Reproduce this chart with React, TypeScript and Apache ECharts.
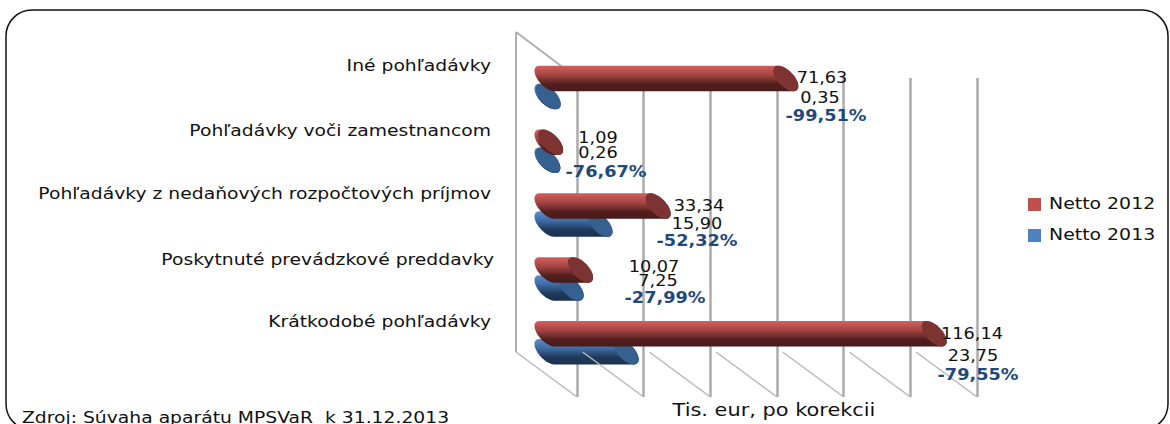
import React, { useEffect, useRef } from "react";
import * as echarts from "echarts";

const categories = [
  "Iné pohľadávky",
  "Pohľadávky voči zamestnancom",
  "Pohľadávky z nedaňových rozpočtových príjmov",
  "Poskytnuté prevádzkové preddavky",
  "Krátkodobé pohľadávky",
];
const netto2012 = [71.63, 1.09, 33.34, 10.07, 116.14];
const netto2013 = [0.35, 0.26, 15.9, 7.25, 23.75];
const changeLabels = ["-99,51%", "-76,67%", "-52,32%", "-27,99%", "-79,55%"];
const gridTicks = [0, 20, 40, 60, 80, 100, 120];
const legendNames = ["Netto 2012", "Netto 2013"];
const axisTitle = "Tis. eur, po korekcii";
const sourceNote = "Zdroj: Súvaha aparátu MPSVaR  k 31.12.2013";

const FONT = "'DejaVu Sans', sans-serif";
const fmt = (v: number) => v.toFixed(2).replace(".", ",");

// label centres, one triple per category: 2012, 2013, change
const labelSpots = [
  [[822, 78], [820, 98], [826, 116]],
  [[598, 138], [598, 153], [606, 172]],
  [[699, 206], [697, 224], [697, 241]],
  [[654, 267], [658, 281], [665, 298]],
  [[972, 334], [973, 356], [978, 375]],
];
const categorySpots = [[491, 66], [491, 131], [491, 194], [494, 260], [491, 322]];

function ellipsePts(cx: number, cy: number) {
  const a = 16, b = 8, phi = (46 * Math.PI) / 180;
  const pts: number[][] = [];
  for (let i = 0; i < 48; i++) {
    const t = (i / 48) * Math.PI * 2;
    pts.push([
      cx + a * Math.cos(t) * Math.cos(phi) - b * Math.sin(t) * Math.sin(phi),
      cy + a * Math.cos(t) * Math.sin(phi) + b * Math.sin(t) * Math.cos(phi),
    ]);
  }
  return pts;
}

function cylinder(api: any, yOff: number, stops: string[], cap: string) {
  const v = api.value(0);
  const end = api.coord([v, api.value(1)]);
  const start = api.coord([0, api.value(1)]);
  const cy = end[1] + yOff;
  const left = ellipsePts(start[0] - 30, cy);
  const right = ellipsePts(end[0] - 30, cy);
  let top = 0, bot = 0;
  right.forEach((p, i) => {
    if (p[1] < right[top][1]) top = i;
    if (p[1] > right[bot][1]) bot = i;
  });
  const hull: number[][] = [];
  const n = right.length;
  for (let i = top; ; i = (i + 1) % n) {
    hull.push(right[i]);
    if (i === bot) break;
  }
  for (let i = bot; ; i = (i + 1) % n) {
    hull.push(left[i]);
    if (i === top) break;
  }
  return {
    type: "group",
    children: [
      {
        type: "polygon",
        shape: { points: hull },
        style: {
          fill: new echarts.graphic.LinearGradient(0, 0, 0, 1, [
            { offset: 0, color: stops[0] },
            { offset: 0.38, color: stops[1] },
            { offset: 0.72, color: stops[2] },
            { offset: 1, color: stops[3] },
          ]),
        },
      },
      { type: "polygon", shape: { points: right }, style: { fill: cap } },
    ],
  };
}

const stretched = (text: string, x: number, y: number, size: number, scaleX: number, align: string, extra: any = {}) => ({
  type: "text",
  x,
  y,
  scaleX,
  z: 10,
  style: {
    text,
    align,
    verticalAlign: "middle",
    font: `${extra.bold ? "bold " : ""}${size}px ${FONT}`,
    fill: extra.fill || "#111111",
  },
});

export default function App() {
  const ref = useRef<HTMLDivElement>(null);
  useEffect(() => {
    document.body.style.margin = "0";
    document.body.style.overflow = "hidden";
    const chart = echarts.init(ref.current!, undefined, { renderer: "svg" });
    const labelGraphics: any[] = [];
    categories.forEach((c, i) => {
      labelGraphics.push(stretched(c, categorySpots[i][0], categorySpots[i][1], 15, 1.25, "right"));
      const texts = [fmt(netto2012[i]), fmt(netto2013[i]), changeLabels[i]];
      texts.forEach((t, j) => {
        labelGraphics.push(
          stretched(t, labelSpots[i][j][0], labelSpots[i][j][1], 15, 1.18, "center",
            j === 2 ? { bold: true, fill: "#1f497d" } : {})
        );
      });
    });
    chart.setOption({
      animation: false,
      backgroundColor: "#ffffff",
      grid: { left: 577, top: 78, width: 400, height: 319, containLabel: false },
      xAxis: {
        type: "value",
        min: 0,
        max: 120,
        interval: 20,
        axisLine: { show: false },
        axisTick: { show: false },
        axisLabel: { show: false },
        splitLine: { show: true, lineStyle: { color: "#ababab", width: 2.5 } },
      },
      yAxis: {
        type: "category",
        inverse: true,
        data: categories,
        axisLine: { show: false },
        axisTick: { show: false },
        splitLine: { show: false },
        axisLabel: { show: false },
      },
      graphic: [
        {
          type: "rect",
          shape: { x: 6, y: 10, width: 1162, height: 420, r: 26 },
          z: -1,
          style: { fill: "none", stroke: "#111111", lineWidth: 1.5 },
        },
        stretched(sourceNote, 22, 418, 15, 1.25, "left"),
        stretched(axisTitle, 774, 410, 18, 1.16, "center"),
        { type: "rect", shape: { x: 1028, y: 198, width: 13, height: 13 }, style: { fill: "#c0504d" }, z: 10 },
        { type: "rect", shape: { x: 1028, y: 229, width: 13, height: 13 }, style: { fill: "#4f81bd" }, z: 10 },
        stretched(legendNames[0], 1049, 204, 15, 1.26, "left"),
        stretched(legendNames[1], 1049, 235, 15, 1.26, "left"),
        ...labelGraphics,
      ],
      series: [
        {
          type: "custom",
          name: "wall",
          z: 1,
          silent: true,
          data: [[0]],
          encode: { x: 0 },
          renderItem: (params: any, api: any) => {
            const x0 = api.coord([0, 0])[0];
            const { y, height } = params.coordSys;
            const style = { stroke: "#b0b0b0", lineWidth: 2 };
            return {
              type: "group",
              children: [
                { type: "line", shape: { x1: x0 - 61, y1: y - 46, x2: x0 - 61, y2: y + height - 45 }, style },
                { type: "line", shape: { x1: x0 - 61, y1: y - 46, x2: x0, y2: y }, style },
              ],
            };
          },
        },
        {
          type: "custom",
          name: legendNames[0],
          z: 3,
          itemStyle: { color: "#c0504d" },
          data: netto2012.map((v, i) => [v, i]),
          encode: { x: 0, y: 1 },
          renderItem: (_: any, api: any) => cylinder(api, -31.4, ["#d65f5d", "#a04341", "#531f1e", "#461b1a"], "#7c3331"),
        },
        {
          type: "custom",
          name: legendNames[1],
          z: 2,
          itemStyle: { color: "#4f81bd" },
          data: netto2013.map((v, i) => [v, i]),
          encode: { x: 0, y: 1 },
          renderItem: (_: any, api: any) => cylinder(api, -13.4, ["#5c8fce", "#3d6ba3", "#20395a", "#1b3250"], "#35608f"),
        },
        {
          type: "custom",
          name: "floor",
          z: 4,
          silent: true,
          data: gridTicks.map((v) => [v]),
          encode: { x: 0 },
          renderItem: (params: any, api: any) => {
            const x = api.coord([api.value(0), 0])[0];
            const { y, height } = params.coordSys;
            return {
              type: "line",
              shape: { x1: x - 61, y1: y + height - 45, x2: x, y2: y + height },
              style: { stroke: "#b8b8b8", lineWidth: 1.5 },
            };
          },
        },
      ],
    });
    return () => chart.dispose();
  }, []);
  return <div ref={ref} style={{ width: 1170, height: 424 }} />;
}
